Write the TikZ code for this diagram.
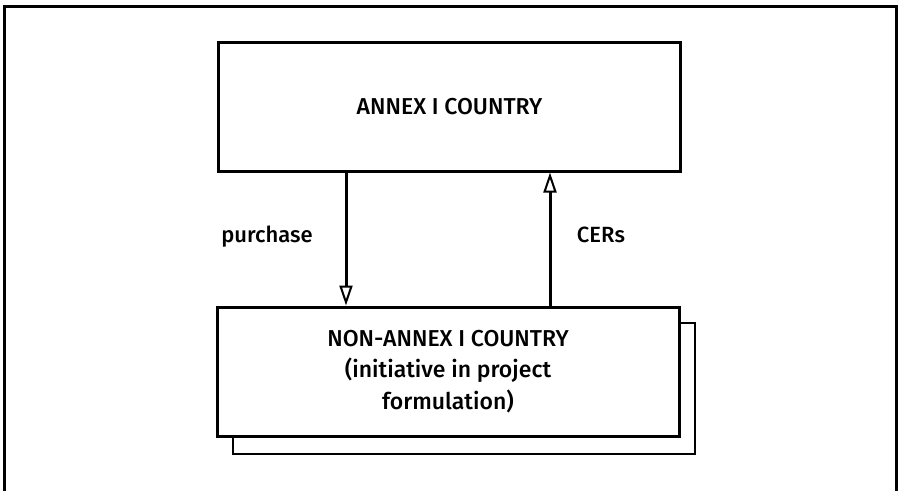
\documentclass[tikz,border=0pt]{standalone}
\usepackage{fontspec}
\setmainfont{Fira Sans}[BoldFont={Fira Sans Medium}]
\usetikzlibrary{arrows.meta}
\begin{document}
\begin{tikzpicture}[x=1pt,y=-1pt,
  box/.style={draw,line width=3pt,fill=white,minimum width=462pt,minimum height=129pt,inner sep=0pt,align=center,font=\fontsize{23}{31.5}\selectfont\bfseries},
  lbl/.style={font=\fontsize{22}{26}\selectfont\bfseries,anchor=base},
  flow/.style={line width=3pt,-{Triangle[open,length=20pt,width=13pt,line width=2pt]}}]
\useasboundingbox (0,0) rectangle (899,490);
% outer frame
\coordinate (f1) at (4,492);
\coordinate (f2) at (4,6);
\coordinate (f3) at (896,6);
\coordinate (f4) at (896,492);
\draw[line width=3pt] (f1) -- (f2) -- (f3) -- (f4);
% shadow of bottom box
\coordinate (s1) at (233,436);
\coordinate (s2) at (233,454);
\coordinate (s3) at (695,454);
\coordinate (s4) at (695,323);
\coordinate (s5) at (679,323);
\draw[line width=2pt] (s1) -- (s2) -- (s3) -- (s4) -- (s5);
% boxes
\node[box] (top) at (449.5,106.5) {ANNEX I COUNTRY};
\node[box] (bot) at (448,371.5) {NON-ANNEX I COUNTRY\\(initiative in project\\formulation)};
% arrows
\coordinate (pa) at (346,0);
\coordinate (ca) at (550,0);
\draw[flow] (top.south -| pa) -- (bot.north -| pa);
\draw[flow] (bot.north -| ca) -- (top.south -| ca);
\node[lbl] (purchase) at (267,242) {purchase};
\node[lbl] (cers) at (601,242) {CERs};
\end{tikzpicture}
\end{document}
